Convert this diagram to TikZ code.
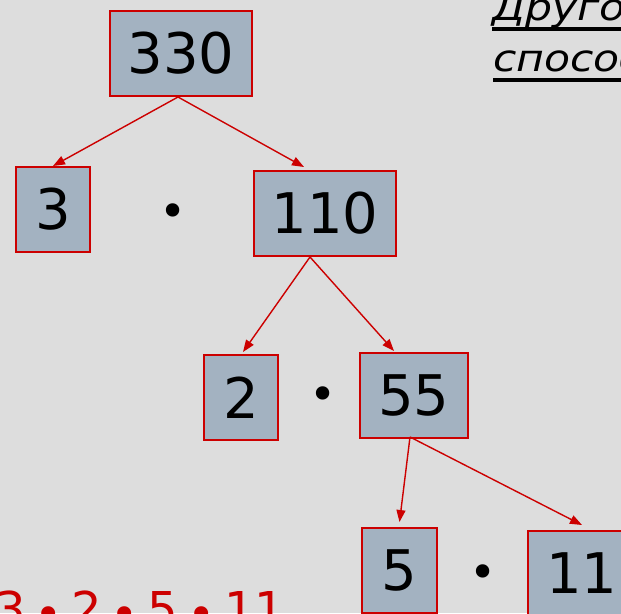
\documentclass[tikz,border=0pt]{standalone}
\usepackage{fontspec}
\setmainfont{DejaVu Sans}
\newfontfamily\titlefont[FakeStretch=1.15]{DejaVu Sans}
\usetikzlibrary{arrows.meta}
\definecolor{bg}{HTML}{DDDDDD}
\definecolor{boxfill}{HTML}{A3B2C1}
\definecolor{boxred}{HTML}{CC0000}
\newcommand{\lowdot}{\hspace{8.75pt}\raisebox{-5pt}{•}\hspace{8.75pt}}
\begin{document}
\begin{tikzpicture}[x=1pt,y=-1pt,
  numbox/.style={draw=boxred, line width=2pt, fill=boxfill, minimum height=85pt,
    inner sep=0pt, font=\fontsize{56}{62}\selectfont, text=black},
  arr/.style={draw=boxred, line width=1.4pt, -{Triangle[length=12pt,width=9pt]}},
  mul/.style={inner sep=0pt, font=\fontsize{46}{50}\selectfont},
  title/.style={anchor=base west, inner sep=0pt, font=\titlefont\fontsize{37}{44}\selectfont\itshape},
  uline/.style={line width=4pt}]
\useasboundingbox (0,0) rectangle (621,613);
\clip (0,0) rectangle (621,613);
\fill[bg] (0,0) rectangle (621,613);
% boxes
\node[numbox, minimum width=142pt] (n330) at (181,53.5) {330};
\node[numbox, minimum width=74pt]  (n3)   at (53,209.5) {3};
\node[numbox, minimum width=142pt] (n110) at (325,213.5) {110};
\node[numbox, minimum width=74pt]  (n2)   at (241,397.5) {2};
\node[numbox, minimum width=108pt] (n55)  at (414,395.5) {55};
\node[numbox, minimum width=75pt]  (n5)   at (399.5,570.5) {5};
\node[numbox, minimum width=108pt] (n11)  at (582,573.5) {11};
% multiplication dots
\node[mul] (m1) at (173,215.5) {•};
\node[mul] (m2) at (323,398.5) {•};
\node[mul] (m3) at (483,576.5) {•};
% arrows
\draw[arr] ([xshift=-3pt]n330.south) -- (n3.north);
\draw[arr] ([xshift=-3pt]n330.south) -- ([xshift=-21pt,yshift=3pt]n110.north);
\draw[arr] ([xshift=-15pt]n110.south) -- ([xshift=2pt,yshift=2pt]n2.north);
\draw[arr] ([xshift=-15pt]n110.south) -- ([xshift=-20pt,yshift=1pt]n55.north);
\draw[arr] ([xshift=-4pt,yshift=2pt]n55.south) -- ([yshift=5pt]n5.north);
\draw[arr] ([xshift=-4pt,yshift=2pt]n55.south) -- ([yshift=5pt]n11.north);
% title
\node[title] (t1) at (492,20) {Другой};
\node[title] (t2) at (493,71) {способ};
\draw[uline] ([yshift=-9pt]t1.base west) -- ([yshift=-9pt]t1.base east);
\draw[uline] ([yshift=-9pt]t2.base west) -- ([yshift=-9pt]t2.base east);
% result
\node[anchor=base west, inner sep=0pt, text=boxred, font=\fontsize{48}{54}\selectfont]
  (res) at (-5,626) {3\lowdot 2\lowdot 5\lowdot 11};
\end{tikzpicture}
\end{document}
